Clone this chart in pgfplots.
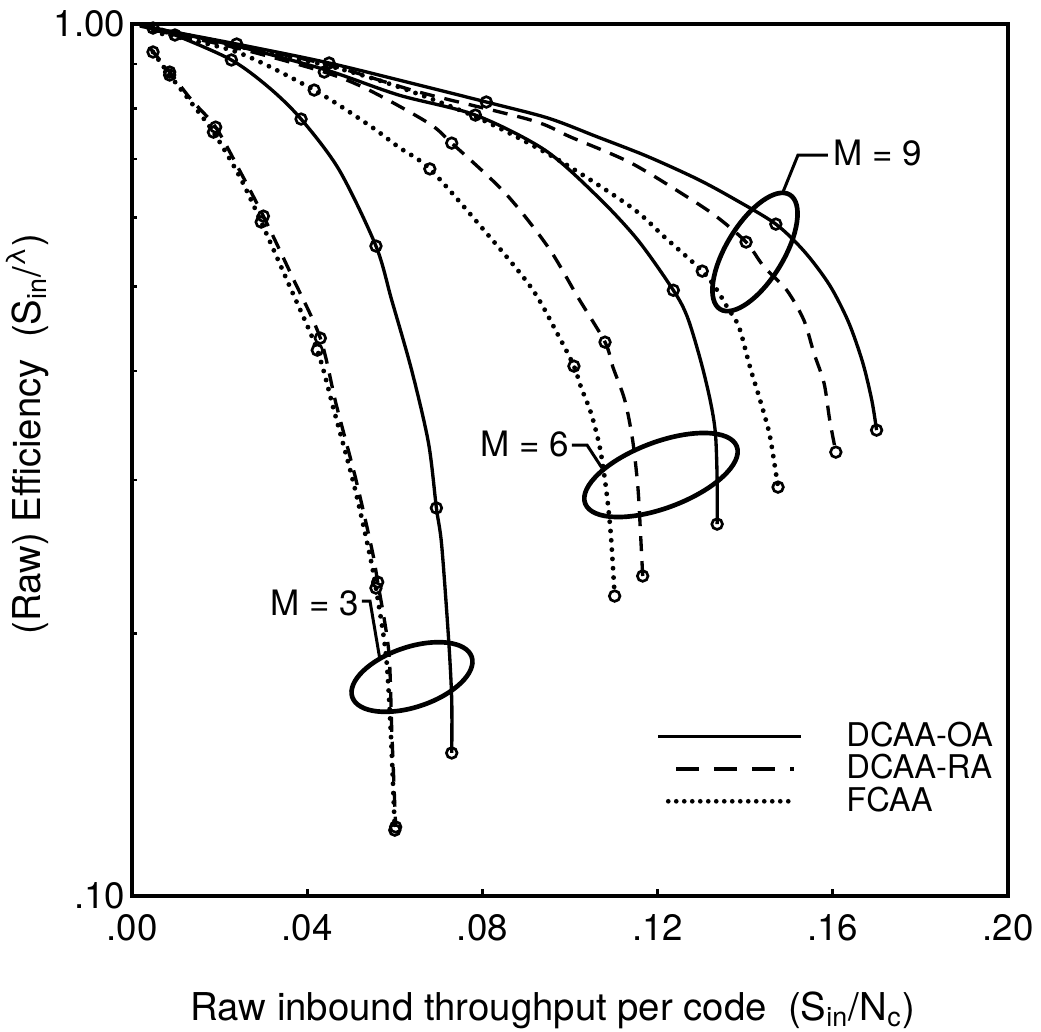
\documentclass[border=0pt]{standalone}
\usepackage{fontspec}
\setmainfont{TeX Gyre Heros}
\usepackage{pgfplots}
\pgfplotsset{compat=1.18}

\pgfplotsset{
  oa/.style={black, mark=none, line width=1.0pt, smooth, tension=0.5},
  ra/.style={black, mark=none, line width=1.0pt, dash pattern=on 4.5pt off 3pt, smooth, tension=0.5},
  fc/.style={black, mark=none, line width=1.45pt, line cap=round, dash pattern=on 0pt off 2.8pt, smooth, tension=0.5},
  mk/.style={black, only marks, mark=o, mark size=1.6pt, mark options={solid, line width=0.8pt}},
}

\begin{document}
\begin{tikzpicture}
\begin{axis}[
  name=ax,
  scale only axis, width=262.8pt, height=261.6pt,
  xmin=0, xmax=0.2, ymin=0.1, ymax=1, ymode=log,
  xtick={0,0.04,0.08,0.12,0.16,0.2},
  xticklabels={.00,.04,.08,.12,.16,.20},
  ytick={0.1,1}, yticklabels={.10,1.00},
  minor ytick={0.2,0.3,0.4,0.5,0.6,0.7,0.8,0.9},
  tick align=inside, xtick pos=bottom, ytick pos=left,
  major tick length=2pt, minor tick length=1.5pt,
  every tick/.style={black, line width=0.8pt},
  axis line style={line width=1pt},
  tick label style={font=\fontsize{11}{12}\selectfont},
  xticklabel style={yshift=-2pt},
  yticklabel style={xshift=1.5pt},
  clip=false,
  xlabel={Raw inbound throughput per code\ \ (S\textsubscript{in}/N\textsubscript{c})},
  ylabel={(Raw) Efficiency\ \ (S\textsubscript{in}/\textsuperscript{λ})},
  label style={font=\fontsize{11.5}{13}\selectfont},
  xlabel style={at={(axis description cs:0.4806,-0.1422)}, anchor=base},
  ylabel style={at={(axis description cs:-0.105,0.53)}, anchor=base},
  legend style={draw=none, fill=none, at={(rel axis cs:0.5865,0.212)}, anchor=north west,
    font=\fontsize{9.8}{9.8}\selectfont, row sep=-1.1pt, column sep=12pt,
    nodes={inner sep=1pt}},
  legend cell align=left,
]
% ---------- M = 9 ----------
\addplot[oa, forget plot] coordinates {(0.0018,0.9974)(0.0048,0.9895)(0.0239,0.9486)(0.0450,0.9022)(0.0655,0.8512)(0.0809,0.8139)(0.0950,0.7802)(0.1064,0.7419)(0.1177,0.7050)(0.1291,0.6640)(0.1375,0.6300)(0.1470,0.5896)(0.1536,0.5478)(0.1593,0.5016)(0.1636,0.4551)(0.1668,0.4096)(0.1689,0.3705)(0.1700,0.3422)};
\addplot[mk, forget plot] coordinates {(0.0048,0.9895)(0.0239,0.9486)(0.0450,0.9022)(0.0809,0.8139)(0.1470,0.5896)(0.1700,0.3422)};
\addplot[ra, forget plot] coordinates {(0.0048,0.9895)(0.0239,0.9461)(0.0450,0.8974)(0.0655,0.8356)(0.0911,0.7760)(0.1002,0.7419)(0.1139,0.6930)(0.1268,0.6333)(0.1336,0.6006)(0.1402,0.5623)(0.1443,0.5267)(0.1495,0.4951)(0.1534,0.4575)(0.1557,0.4193)(0.1580,0.3876)(0.1593,0.3515)(0.1607,0.3229)};
\addplot[mk, forget plot] coordinates {(0.1402,0.5623)(0.1607,0.3229)};
\addplot[fc, forget plot] coordinates {(0.0048,0.9895)(0.0239,0.9436)(0.0450,0.8951)(0.0609,0.8469)(0.0791,0.7802)(0.0966,0.7022)(0.1139,0.6169)(0.1216,0.5697)(0.1302,0.5208)(0.1336,0.4951)(0.1359,0.4735)(0.1386,0.4491)(0.1411,0.4042)(0.1434,0.3705)(0.1455,0.3396)(0.1468,0.3104)(0.1475,0.2944)};
\addplot[mk, forget plot] coordinates {(0.1302,0.5208)(0.1475,0.2944)};
% ---------- M = 6 ----------
\addplot[oa, forget plot] coordinates {(0.0048,0.9895)(0.0239,0.9436)(0.0443,0.8858)(0.0609,0.8290)(0.0784,0.7864)(0.0943,0.7168)(0.1064,0.6333)(0.1155,0.5652)(0.1236,0.4951)(0.1268,0.4613)(0.1298,0.4117)(0.1320,0.3705)(0.1332,0.3396)(0.1336,0.2999)(0.1336,0.2670)};
\addplot[mk, forget plot] coordinates {(0.0784,0.7864)(0.1236,0.4951)(0.1336,0.2670)};
\addplot[ra, forget plot] coordinates {(0.0048,0.9843)(0.0239,0.9386)(0.0439,0.8809)(0.0541,0.8400)(0.0677,0.7699)(0.0730,0.7302)(0.0852,0.6400)(0.0950,0.5549)(0.1018,0.4861)(0.1080,0.4317)(0.1098,0.4042)(0.1125,0.3705)(0.1143,0.3334)(0.1155,0.2944)(0.1161,0.2608)(0.1166,0.2328)};
\addplot[mk, forget plot] coordinates {(0.0439,0.8809)(0.0730,0.7302)(0.1080,0.4317)(0.1166,0.2328)};
\addplot[fc, forget plot] coordinates {(0.0048,0.9791)(0.0239,0.9288)(0.0416,0.8400)(0.0541,0.7658)(0.0609,0.7225)(0.0680,0.6821)(0.0798,0.5847)(0.0911,0.4990)(0.0973,0.4398)(0.1009,0.4052)(0.1025,0.3835)(0.1048,0.3580)(0.1068,0.3272)(0.1082,0.2944)(0.1093,0.2608)(0.1102,0.2208)};
\addplot[mk, forget plot] coordinates {(0.0416,0.8400)(0.0680,0.6821)(0.1009,0.4052)(0.1102,0.2208)};
% ---------- M = 3 ----------
\addplot[oa, forget plot] coordinates {(0.0018,0.9947)(0.0048,0.9869)(0.0098,0.9714)(0.0227,0.9094)(0.0314,0.8446)(0.0386,0.7782)(0.0473,0.6803)(0.0557,0.5564)(0.0593,0.4823)(0.0639,0.4000)(0.0677,0.3307)(0.0695,0.2786)(0.0707,0.2527)(0.0723,0.1966)(0.0730,0.1678)(0.0730,0.1459)};
\addplot[mk, forget plot] coordinates {(0.0098,0.9714)(0.0227,0.9094)(0.0386,0.7782)(0.0557,0.5564)(0.0695,0.2786)(0.0730,0.1459)};
\addplot[ra, forget plot] coordinates {(0.0041,0.9386)(0.0086,0.8809)(0.0136,0.8182)(0.0191,0.7618)(0.0245,0.6803)(0.0300,0.6022)(0.0364,0.5154)(0.0430,0.4363)(0.0466,0.3666)(0.0511,0.3007)(0.0548,0.2494)(0.0561,0.2291)(0.0586,0.1914)(0.0593,0.1554)(0.0602,0.1200)};
\addplot[mk, forget plot] coordinates {(0.0086,0.8809)(0.0191,0.7618)(0.0300,0.6022)(0.0430,0.4363)(0.0561,0.2291)(0.0602,0.1200)};
\addplot[fc, forget plot] coordinates {(0.0048,0.9288)(0.0086,0.8740)(0.0136,0.8117)(0.0186,0.7517)(0.0245,0.6696)(0.0295,0.5928)(0.0359,0.5016)(0.0423,0.4227)(0.0461,0.3608)(0.0507,0.2960)(0.0543,0.2460)(0.0557,0.2255)(0.0580,0.1889)(0.0591,0.1538)(0.0600,0.1190)};
\addplot[mk, forget plot] coordinates {(0.0048,0.9288)(0.0086,0.8740)(0.0186,0.7517)(0.0295,0.5928)(0.0423,0.4227)(0.0557,0.2255)(0.0600,0.1190)};
% ---------- legend ----------
\addlegendimage{legend image code/.code={\draw[black, line width=1.1pt] (0pt,0pt) -- (42.9pt,0pt);}}
\addlegendentry{DCAA-OA}
\addlegendimage{legend image code/.code={\draw[black, line width=1.1pt, dash pattern=on 6.9pt off 4.5pt] (5.4pt,0pt) -- (40.8pt,0pt);}}
\addlegendentry{DCAA-RA}
\addlegendimage{legend image code/.code={\draw[black, line width=1.4pt, line cap=round, dash pattern=on 0pt off 2.4pt] (3pt,0pt) -- (40.8pt,0pt);}}
\addlegendentry{FCAA}
\end{axis}
% ---------- annotations (pixel frame of the figure) ----------
\begin{scope}[shift={(ax.south west)}, shift={(-39.6pt,268.8pt)}, x=0.3pt, y=-0.3pt]
  \pgfresetboundingbox
  \path[use as bounding box] (0,0) rectangle (1041,1032);
  \draw[line width=1.4pt, rotate around={18.6:(412,677)}] (412,677) ellipse [x radius=18.9pt, y radius=9pt];
  \draw[line width=1.4pt, rotate around={20.6:(661,475)}] (661,475) ellipse [x radius=24.3pt, y radius=9.9pt];
  \draw[line width=1.4pt, rotate around={58.7:(755,252)}] (755,252) ellipse [x radius=20.1pt, y radius=8.6pt];
  \draw[line width=0.9pt] (828,155) -- (798,155) -- (783,192);
  \draw[line width=0.9pt] (572,445) -- (587,445) -- (602,468);
  \draw[line width=0.9pt] (362,601) -- (370,601) -- (380,660);
  \node[anchor=west, inner sep=0pt, font=\fontsize{10.5}{12}\selectfont] at (833,153) {M = 9};
  \node[anchor=east, inner sep=0pt, font=\fontsize{10.5}{12}\selectfont] at (570,444) {M = 6};
  \node[anchor=east, inner sep=0pt, font=\fontsize{10.5}{12}\selectfont] at (360,603) {M = 3};
\end{scope}
\end{tikzpicture}
\end{document}
